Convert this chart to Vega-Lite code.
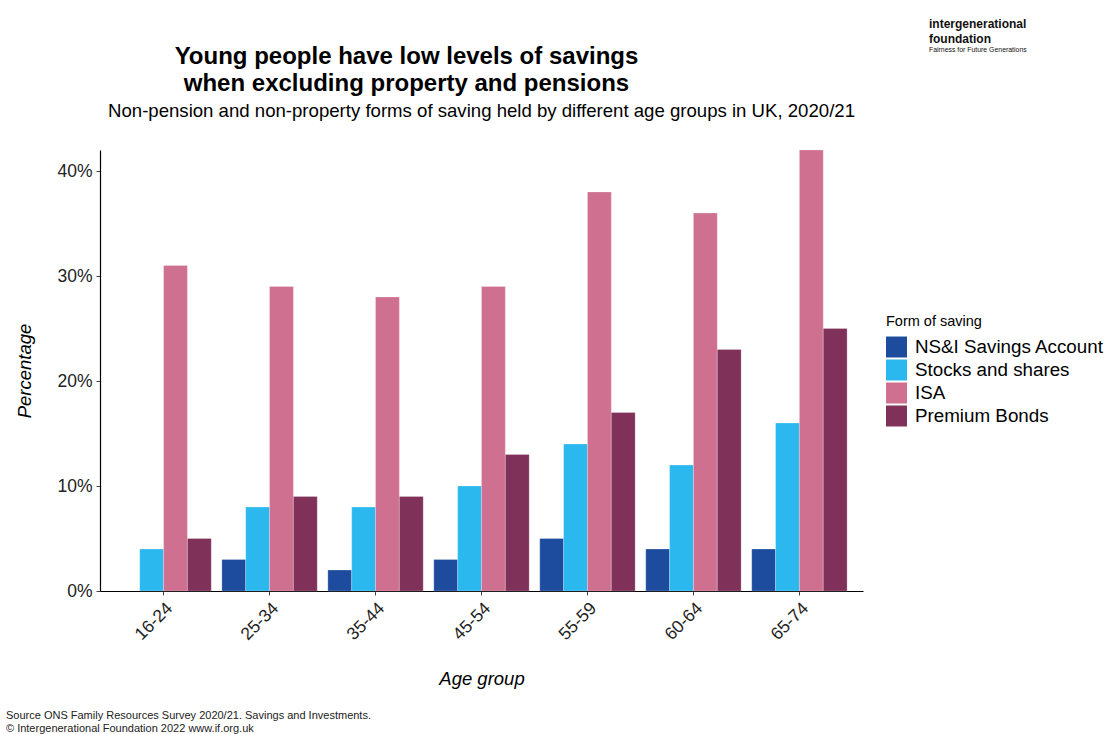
{
  "$schema": "https://vega.github.io/schema/vega-lite/v6.json",
  "background": "white",
  "padding": {"left": 5, "top": 18, "right": 4, "bottom": 2},
  "config": {
    "font": "Liberation Sans",
    "view": {"stroke": null},
    "concat": {"spacing": 0}
  },
  "title": {
    "text": ["Source ONS Family Resources Survey 2020/21. Savings and Investments.", "© Intergenerational Foundation 2022 www.if.org.uk"],
    "orient": "bottom",
    "anchor": "start",
    "frame": "bounds",
    "dx": -10,
    "fontSize": 11,
    "fontWeight": "normal",
    "color": "#222222",
    "lineHeight": 13,
    "offset": 22
  },
  "vconcat": [
    {
      "title": {
        "text": ["intergenerational", "foundation"],
        "subtitle": "Fairness for Future Generations",
        "anchor": "end",
        "frame": "bounds",
        "align": "left",
        "dx": 66,
        "offset": -9,
        "fontSize": 12,
        "fontWeight": "bold",
        "lineHeight": 15,
        "color": "#111111",
        "subtitleFontSize": 6.9,
        "subtitleColor": "#111111",
        "subtitlePadding": 1
      },
      "vconcat": [
        {
          "title": {
            "text": ["Young people have low levels of savings", "when excluding property and pensions"],
            "anchor": "middle",
            "frame": "bounds",
            "dx": -33,
            "fontSize": 24,
            "fontWeight": "bold",
            "lineHeight": 27,
            "color": "#000000",
            "offset": 6
          },
          "vconcat": [
            {
              "title": {
                "text": "Non-pension and non-property forms of saving held by different age groups in UK, 2020/21",
                "anchor": "middle",
                "fontSize": 18.6,
                "fontWeight": "normal",
                "color": "#000000",
                "offset": 29
              },
              "width": 763,
              "height": 441,
              "data": {
                "values": [
                  {"age": "16-24", "form": "Stocks and shares", "value": 0.04},
                  {"age": "16-24", "form": "ISA", "value": 0.31},
                  {"age": "16-24", "form": "Premium Bonds", "value": 0.05},
                  {"age": "25-34", "form": "NS&I Savings Account", "value": 0.03},
                  {"age": "25-34", "form": "Stocks and shares", "value": 0.08},
                  {"age": "25-34", "form": "ISA", "value": 0.29},
                  {"age": "25-34", "form": "Premium Bonds", "value": 0.09},
                  {"age": "35-44", "form": "NS&I Savings Account", "value": 0.02},
                  {"age": "35-44", "form": "Stocks and shares", "value": 0.08},
                  {"age": "35-44", "form": "ISA", "value": 0.28},
                  {"age": "35-44", "form": "Premium Bonds", "value": 0.09},
                  {"age": "45-54", "form": "NS&I Savings Account", "value": 0.03},
                  {"age": "45-54", "form": "Stocks and shares", "value": 0.10},
                  {"age": "45-54", "form": "ISA", "value": 0.29},
                  {"age": "45-54", "form": "Premium Bonds", "value": 0.13},
                  {"age": "55-59", "form": "NS&I Savings Account", "value": 0.05},
                  {"age": "55-59", "form": "Stocks and shares", "value": 0.14},
                  {"age": "55-59", "form": "ISA", "value": 0.38},
                  {"age": "55-59", "form": "Premium Bonds", "value": 0.17},
                  {"age": "60-64", "form": "NS&I Savings Account", "value": 0.04},
                  {"age": "60-64", "form": "Stocks and shares", "value": 0.12},
                  {"age": "60-64", "form": "ISA", "value": 0.36},
                  {"age": "60-64", "form": "Premium Bonds", "value": 0.23},
                  {"age": "65-74", "form": "NS&I Savings Account", "value": 0.04},
                  {"age": "65-74", "form": "Stocks and shares", "value": 0.16},
                  {"age": "65-74", "form": "ISA", "value": 0.42},
                  {"age": "65-74", "form": "Premium Bonds", "value": 0.25}
                ]
              },
              "mark": {"type": "bar", "stroke": "#ffffff", "strokeWidth": 0.4, "strokeOpacity": 0.6},
              "encoding": {
                "x": {
                  "field": "age",
                  "type": "nominal",
                  "sort": ["16-24", "25-34", "35-44", "45-54", "55-59", "60-64", "65-74"],
                  "scale": {"paddingInner": 0.1, "paddingOuter": 0.15},
                  "axis": {
                    "title": "Age group",
                    "titleFontSize": 18.5,
                    "titleFontStyle": "italic",
                    "titleFontWeight": "normal",
                    "titleColor": "#000000",
                    "titlePadding": 26,
                    "labelAngle": -45,
                    "labelAlign": "right",
                    "labelBaseline": "top",
                    "labelFontSize": 17.5,
                    "labelColor": "#222222",
                    "labelPadding": 4,
                    "domainColor": "#000000",
                    "domainWidth": 1.2,
                    "tickColor": "#444444",
                    "tickSize": 4,
                    "grid": false
                  }
                },
                "xOffset": {
                  "field": "form",
                  "type": "nominal",
                  "sort": ["NS&I Savings Account", "Stocks and shares", "ISA", "Premium Bonds"],
                  "scale": {"paddingInner": 0, "paddingOuter": 0}
                },
                "y": {
                  "field": "value",
                  "type": "quantitative",
                  "scale": {"domain": [0, 0.42], "nice": false},
                  "axis": {
                    "title": "Percentage",
                    "titleFontSize": 18.5,
                    "titleFontStyle": "italic",
                    "titleFontWeight": "normal",
                    "titleColor": "#000000",
                    "titlePadding": 22,
                    "values": [0, 0.1, 0.2, 0.3, 0.4],
                    "format": ".0%",
                    "labelFontSize": 17.5,
                    "labelColor": "#222222",
                    "labelPadding": 4,
                    "domainColor": "#000000",
                    "domainWidth": 1.2,
                    "tickColor": "#444444",
                    "tickSize": 4,
                    "grid": false
                  }
                },
                "color": {
                  "field": "form",
                  "type": "nominal",
                  "sort": ["NS&I Savings Account", "Stocks and shares", "ISA", "Premium Bonds"],
                  "scale": {
                    "domain": ["NS&I Savings Account", "Stocks and shares", "ISA", "Premium Bonds"],
                    "range": ["#1d4c9f", "#2bb8ee", "#d07090", "#7f3159"]
                  },
                  "legend": {
                    "title": "Form of saving",
                    "titleFontSize": 14.5,
                    "titleFontWeight": "normal",
                    "titleColor": "#000000",
                    "titlePadding": 7,
                    "labelFontSize": 18.8,
                    "labelColor": "#000000",
                    "labelLimit": 0,
                    "symbolType": "square",
                    "symbolSize": 440,
                    "symbolStrokeWidth": 0,
                    "symbolOpacity": 1,
                    "rowPadding": 2,
                    "labelOffset": 8,
                    "orient": "none",
                    "legendX": 786,
                    "legendY": 165
                  }
                }
              }
            }
          ]
        }
      ]
    }
  ]
}
